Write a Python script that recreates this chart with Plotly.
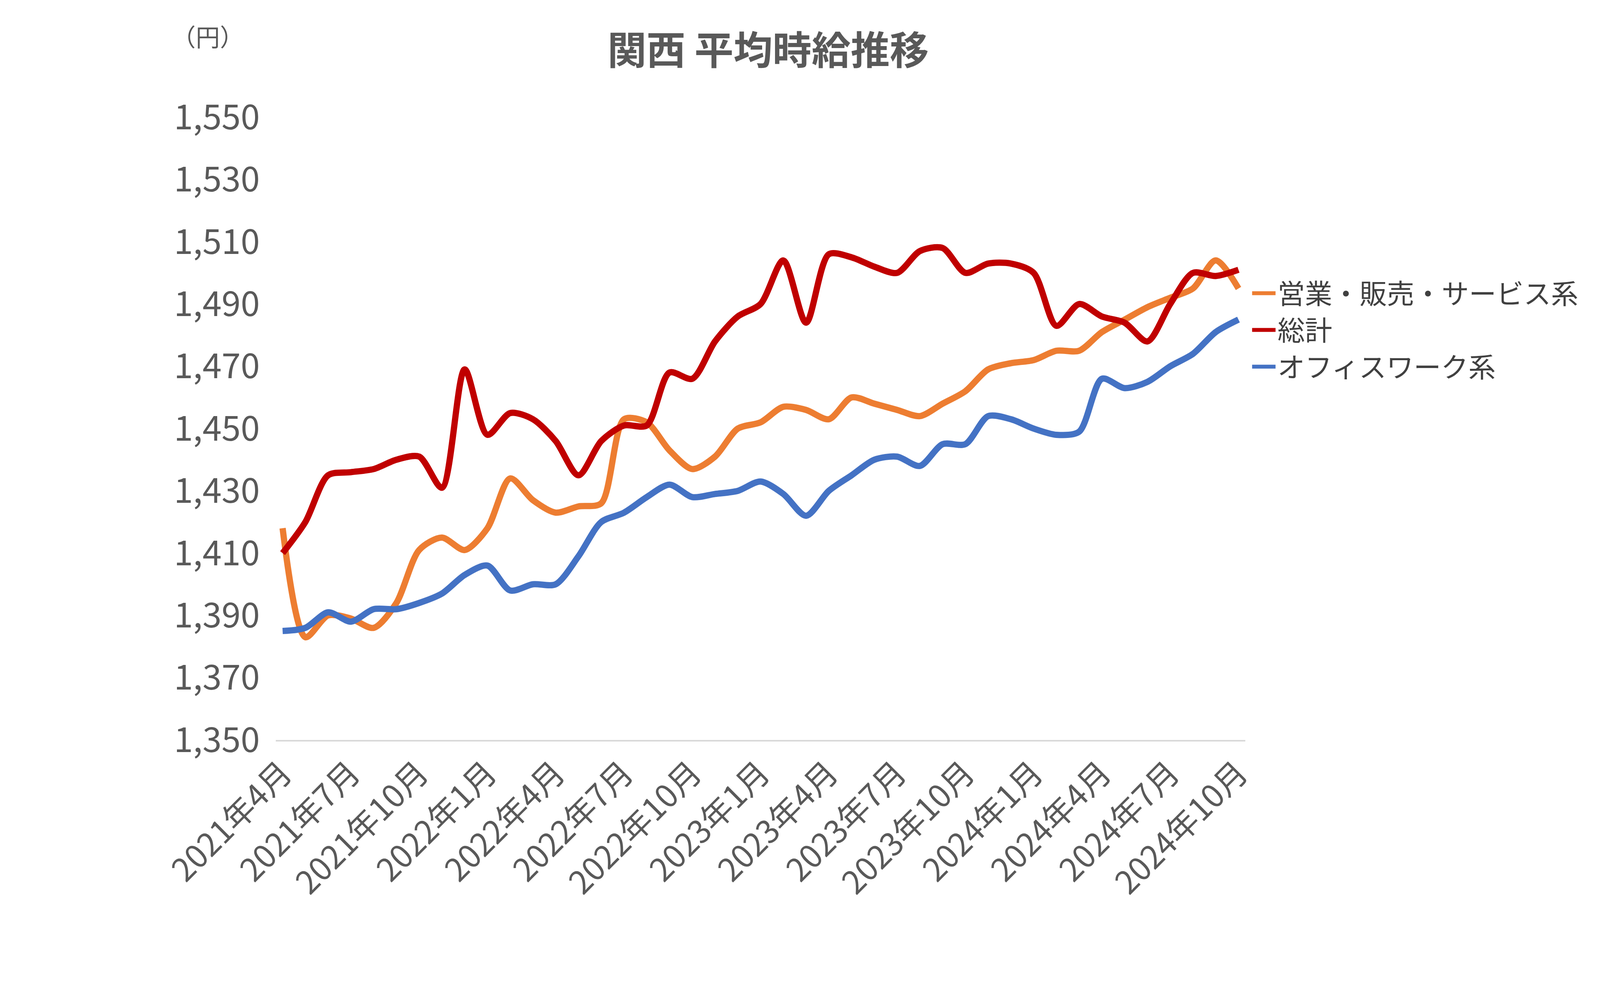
import plotly.graph_objects as go

# 2021年4月 ～ 2024年10月 の月次
months = [f"{y}年{m}月" for y, m in
          [(2021, m) for m in range(4, 13)] + [(2022, m) for m in range(1, 13)] +
          [(2023, m) for m in range(1, 13)] + [(2024, m) for m in range(1, 11)]]

sales = [1418, 1383, 1390, 1389, 1386, 1394, 1411, 1415, 1411, 1418, 1434, 1427,
         1423, 1425, 1426, 1453, 1452, 1443, 1437, 1441, 1450, 1452, 1457, 1456,
         1453, 1460, 1458, 1456, 1454, 1458, 1462, 1469, 1471, 1472, 1475, 1475,
         1481, 1485, 1489, 1492, 1495, 1504, 1495]
total = [1410, 1420, 1435, 1436, 1437, 1440, 1441, 1431, 1469, 1448, 1455, 1453,
         1446, 1435, 1446, 1451, 1451, 1468, 1466, 1478, 1486, 1490, 1504, 1484,
         1506, 1505, 1502, 1500, 1507, 1508, 1500, 1503, 1503, 1500, 1483, 1490,
         1486, 1484, 1478, 1490, 1500, 1499, 1501]
office = [1385, 1386, 1391, 1388, 1392, 1392, 1394, 1397, 1403, 1406, 1398, 1400,
          1400, 1409, 1420, 1423, 1428, 1432, 1428, 1429, 1430, 1433, 1429, 1422,
          1430, 1435, 1440, 1441, 1438, 1445, 1445, 1454, 1453, 1450, 1448, 1449,
          1466, 1463, 1465, 1470, 1474, 1481, 1485]

series = [("営業・販売・サービス系", sales, "#ED7D31"),
          ("総計", total, "#C00000"),
          ("オフィスワーク系", office, "#4472C4")]

font = "Noto Sans CJK JP"
fig = go.Figure()
for name, vals, col in series:
    fig.add_trace(go.Scatter(x=months, y=vals, name=name, mode="lines",
                             line=dict(color=col, width=16, shape="spline", smoothing=0.8)))

fig.update_layout(
    autosize=True, plot_bgcolor="white", paper_bgcolor="white",
    margin=dict(l=698, r=900, t=292, b=609),
    font=dict(family=font, color="#595959", size=80),
    title=dict(text="<b>関西 平均時給推移</b>", x=0.48, xanchor="center", y=0.965,
               font=dict(size=100, color="#595959")),
    legend=dict(x=1.005, xanchor="left", y=0.75, yanchor="top",
                font=dict(size=70, color="#404040"), tracegroupgap=60, itemwidth=60),
    annotations=[dict(text="（円）", xref="paper", yref="paper", x=-0.07, y=1.16,
                      xanchor="center", showarrow=False, font=dict(size=62))],
)
fig.update_xaxes(tickmode="array", tickvals=months[::3], tickangle=-45,
                 showline=True, linecolor="#D9D9D9", linewidth=4, showgrid=False,
                 ticks="", range=[-0.3, len(months) - 0.7], tickfont=dict(size=82))
fig.update_yaxes(range=[1350, 1550], tick0=1350, dtick=20, tickformat=",",
                 showgrid=False, zeroline=False, tickfont=dict(size=88),
                 ticklabelstandoff=40)
fig.write_html("out.html")
